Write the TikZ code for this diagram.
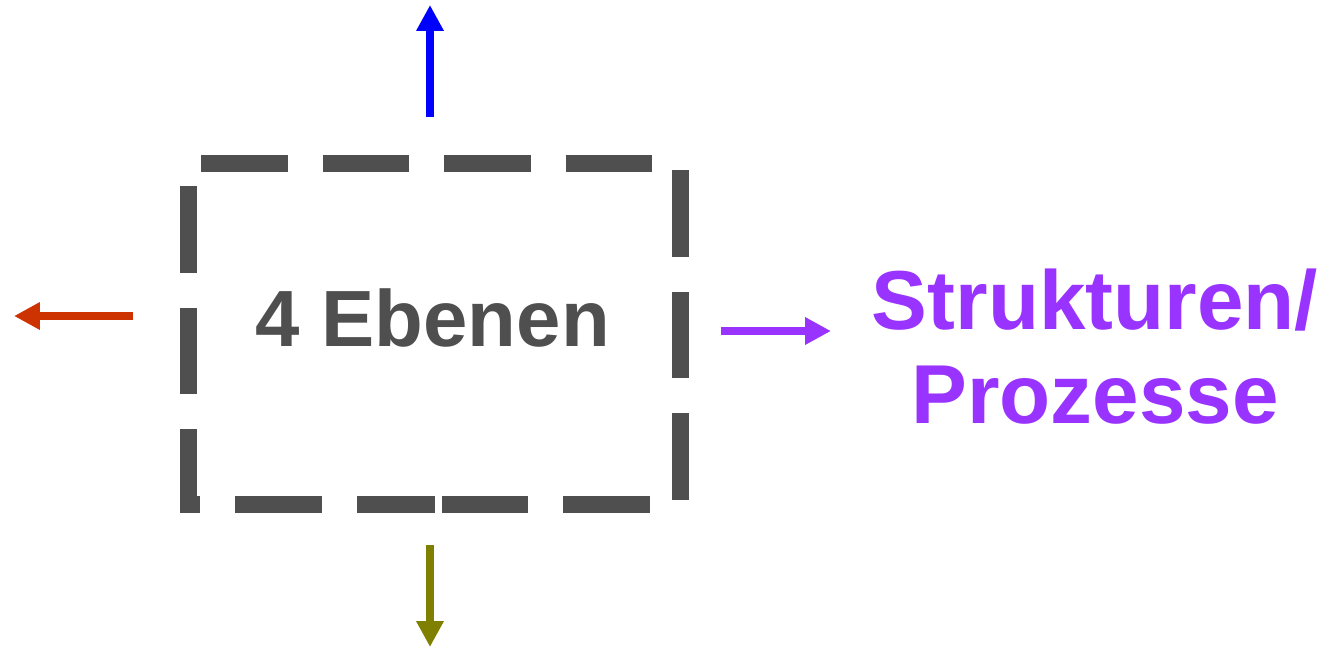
\documentclass[tikz,border=0pt]{standalone}
\usepackage{fontspec}
\setmainfont{Liberation Sans}
\usepackage{xcolor}
\usetikzlibrary{arrows.meta,calc,positioning}

\definecolor{boxgrau}{HTML}{4F4F4F}
\definecolor{pfeilrot}{HTML}{CC3300}
\definecolor{pfeilviolett}{HTML}{9933FF}
\definecolor{pfeiloliv}{HTML}{808000}

\begin{document}
\begin{tikzpicture}[x=0.02cm,y=-0.02cm,
		pfeil/.style={-{Triangle[length=0.52cm,width=0.52cm]},line width=0.16cm},
		ebenenbox/.style={minimum width=9.82cm,minimum height=6.8cm,inner sep=0pt},
		rand/.style={boxgrau,line width=0.34cm,dash pattern=on 1.73cm off 0.7cm,dash phase=0.17cm}]
			\useasboundingbox (0,0) rectangle (1338,649);

			% gestrichelter Kasten
			\node[ebenenbox] (ebenen) at (434.5,334) {};
			\draw[rand] (ebenen.south) -- (ebenen.south west) -- (ebenen.north west)
				-- (ebenen.north east) -- (ebenen.south east) -- (ebenen.south);
			\node[boxgrau,anchor=base,font=\bfseries\fontsize{45.4}{54}\selectfont] (ebenentext) at (432.5,346) {4 Ebenen};

			\node[pfeilviolett,anchor=base,align=center,font=\bfseries\fontsize{47.6}{53.3}\selectfont] (strukturen) at (1095,423) {Strukturen/\\Prozesse};

			% Pfeile
			\coordinate (oben) at (430,5);
			\coordinate (links) at (14,316);
			\coordinate (unten) at (430,647);
			\coordinate (rechts) at (831,331);

			\draw[pfeil,blue] ($(ebenen.north)+(-4.5,-47)$) -- (oben);
			\draw[pfeil,pfeilrot] ($(ebenen.west)+(-56,-18)$) -- (links);
			\draw[pfeil,pfeiloliv] ($(ebenen.south)+(-4.5,41)$) -- (unten);
			\draw[pfeil,pfeilviolett] ($(ebenen.east)+(41,-3)$) -- (rechts);
		\end{tikzpicture}
\end{document}
